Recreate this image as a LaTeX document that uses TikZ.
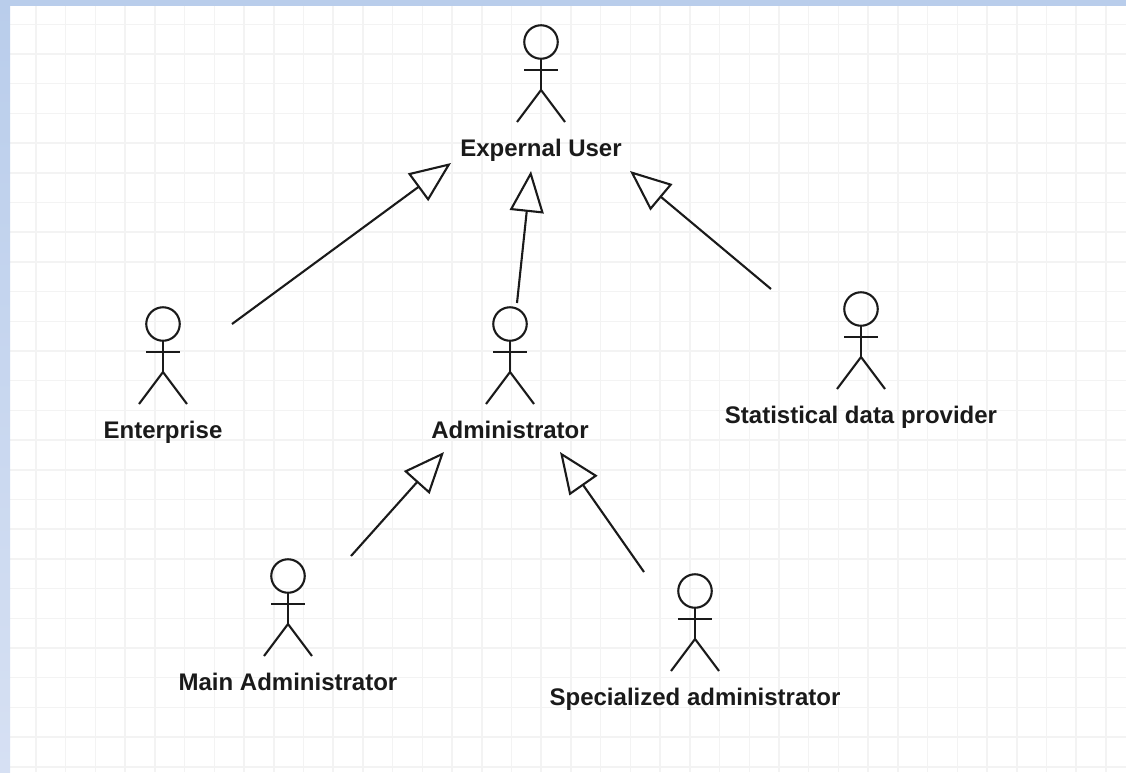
\documentclass[tikz,border=0pt]{standalone}
\usepackage{fontspec}
\setmainfont{Liberation Sans}
\usetikzlibrary{arrows.meta}
\definecolor{gridc}{HTML}{F3F3F3}
\definecolor{inkc}{HTML}{1A1A1A}
\definecolor{bandtop}{HTML}{B9CDEB}
\definecolor{bandbot}{HTML}{D6E0F3}
\tikzset{
  headc/.style={circle,draw=inkc,line width=2.1pt,minimum size=33.5pt,inner sep=0pt,outer sep=0pt},
  limb/.style={draw=inkc,line width=2.1pt},
  actorlabel/.style={font=\bfseries\fontsize{24}{28}\selectfont,text=inkc,inner sep=0pt,anchor=base},
  gen/.style={draw=inkc,line width=2.1pt,-{Triangle[open,length=41pt,width=34pt,line width=2.1pt]}},
}
\newcommand{\actorfig}[4]{%
  \node[headc] (#1) at (#2,#3) {};
  \coordinate (#1hip) at (#2,#3+48);
  \coordinate (#1la) at (#2-17,#3+28);
  \coordinate (#1ra) at (#2+17,#3+28);
  \coordinate (#1ll) at (#2-24,#3+80);
  \coordinate (#1rl) at (#2+24,#3+80);
  \draw[limb] (#1.south) -- (#1hip);
  \draw[limb] (#1la) -- (#1ra);
  \draw[limb,line join=miter] (#1ll) -- (#1hip) -- (#1rl);
  \node[actorlabel] (#1label) at (#2,#3+114) {#4};
}
\begin{document}
\begin{tikzpicture}[x=1pt,y=-1pt]
\useasboundingbox (0,0) rectangle (1126,772);
\fill[white] (0,0) rectangle (1126,772);
% grid
\foreach \i in {0,...,36} {\draw[gridc,line width=1.5pt] ({36+29.72*\i},6) -- ({36+29.72*\i},772);}
\foreach \j in {0,...,25} {\draw[gridc,line width=1.5pt] (10,{24.3+29.7*\j}) -- (1126,{24.3+29.7*\j});}
% frame
\fill[bandtop] (0,0) rectangle (1126,6);
\shade[top color=bandtop,bottom color=bandbot] (0,0) rectangle (10,772);
% actors
\actorfig{ext}{541}{42}{Expernal User}
\actorfig{ent}{163}{324}{Enterprise}
\actorfig{adm}{510}{324}{Administrator}
\actorfig{sta}{861}{309}{Statistical data provider}
\actorfig{mai}{288}{576}{Main Administrator}
\actorfig{spe}{695}{591}{Specialized administrator}
% connector ends
\coordinate (entfrom) at (232,324);
\coordinate (enttip) at (451,163);
\coordinate (admfrom) at (517,303);
\coordinate (admtip) at (531,171);
\coordinate (stafrom) at (771,289);
\coordinate (statip) at (630,171);
\coordinate (maifrom) at (351,556);
\coordinate (maitip) at (444,452);
\coordinate (spefrom) at (644,572);
\coordinate (spetip) at (560,452);
\draw[gen] (entfrom) -- (enttip);
\draw[gen] (admfrom) -- (admtip);
\draw[gen] (stafrom) -- (statip);
\draw[gen] (maifrom) -- (maitip);
\draw[gen] (spefrom) -- (spetip);
\end{tikzpicture}
\end{document}
